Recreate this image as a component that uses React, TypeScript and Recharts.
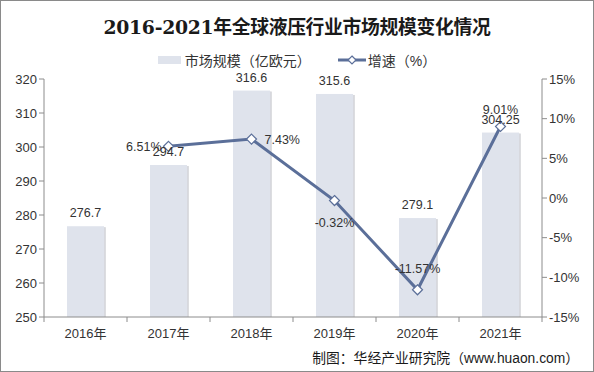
import React from "react";
import {
  ComposedChart,
  Bar,
  Line,
  XAxis,
  YAxis,
  LabelList,
} from "recharts";

const years = ["2016年", "2017年", "2018年", "2019年", "2020年", "2021年"];
const marketSize = [276.7, 294.7, 316.6, 315.6, 279.1, 304.25];
const growthRate = [null, 6.51, 7.43, -0.32, -11.57, 9.01];
const leftTicks = [250, 260, 270, 280, 290, 300, 310, 320];
const rightTicks = [-15, -10, -5, 0, 5, 10, 15];

const chartData = years.map((name, i) => ({
  name,
  size: marketSize[i],
  rate: growthRate[i],
}));

const FONT = "'Liberation Sans', Arial, 'Noto Sans CJK SC', sans-serif";
const LINE_COLOR = "#5b6f99";
const BAR_COLOR = "#dfe3ec";
const BAND = 83;

const BarShape = (props: any) => {
  const { x, y, width, height } = props;
  if (height <= 0) return null;
  return (
    <g>
      <rect x={x + 2} y={y + 1} width={width} height={height - 1} fill="#c4c7cc" opacity={0.6} />
      <rect x={x + 1} y={y + 1} width={width} height={height - 1} fill="#d3d6dc" opacity={0.6} />
      <rect x={x} y={y} width={width} height={height} fill={BAR_COLOR} />
    </g>
  );
};

const Diamond = (props: any) => {
  const { cx, cy, value } = props;
  if (value == null || cx == null) return null;
  const r = 5;
  return (
    <path
      d={`M${cx},${cy - r}L${cx + r},${cy}L${cx},${cy + r}L${cx - r},${cy}Z`}
      fill="#fff"
      stroke={LINE_COLOR}
      strokeWidth={1.2}
    />
  );
};

const XTick = (props: any) => {
  const { x, y, payload, index } = props;
  const last = index === years.length - 1;
  return (
    <g>
      <line x1={x - BAND / 2} y1={y - 8} x2={x - BAND / 2} y2={y - 3} stroke="#8c8c8c" />
      {last && <line x1={x + BAND / 2} y1={y - 8} x2={x + BAND / 2} y2={y - 3} stroke="#8c8c8c" />}
      <text x={x} y={y + 13} textAnchor="middle" fontSize={13} fill="#333" fontFamily={FONT}>
        {payload.value}
      </text>
    </g>
  );
};

// where each growth label sits relative to its point
const rateLabelPos: Record<number, { dx: number; dy: number; anchor: string }> = {
  1: { dx: -7, dy: 5, anchor: "end" },
  2: { dx: 13, dy: 5, anchor: "start" },
  3: { dx: 0, dy: 26, anchor: "middle" },
  4: { dx: 0, dy: -17, anchor: "middle" },
  5: { dx: 0, dy: -13, anchor: "middle" },
};

const RateLabel = (props: any) => {
  const { x, y, value, index } = props;
  if (value == null) return null;
  const p = rateLabelPos[index];
  if (!p) return null;
  return (
    <text x={x + p.dx} y={y + p.dy} textAnchor={p.anchor} fontSize={12.5} fill="#333" fontFamily={FONT}>
      {`${value}%`}
    </text>
  );
};

const SizeLabel = (props: any) => {
  const { x, y, width, value } = props;
  return (
    <text x={x + width / 2} y={y - 9} textAnchor="middle" fontSize={12.5} fill="#333" fontFamily={FONT}>
      {value}
    </text>
  );
};

const App: React.FC = () => {
  return (
    <div
      style={{
        position: "absolute",
        left: 0,
        top: 0,
        width: 594,
        height: 372,
        boxSizing: "border-box",
        border: "1px solid #8a8a8a",
        background: "#fff",
        fontFamily: FONT,
      }}
    >
      <div
        style={{
          position: "absolute",
          top: 11,
          left: 0,
          width: 592,
          textAlign: "center",
          fontFamily: "'DejaVu Serif', 'Noto Sans CJK SC', serif",
          fontWeight: "bold",
          fontSize: 18.8,
          color: "#1a1a1a",
          letterSpacing: -0.3,
        }}
      >
        2016-2021年全球液压行业市场规模变化情况
      </div>
      <div
        style={{
          position: "absolute",
          top: 49,
          left: 0,
          width: 592,
          display: "flex",
          justifyContent: "center",
          alignItems: "center",
          fontSize: 14,
          color: "#333",
        }}
      >
        <span style={{ display: "inline-block", width: 23, height: 8, background: BAR_COLOR, marginRight: 4 }} />
        <span>市场规模（亿欧元）</span>
        <svg width={28} height={12} style={{ marginLeft: 27, marginRight: 2 }}>
          <line x1={0} y1={6} x2={28} y2={6} stroke={LINE_COLOR} strokeWidth={3} />
          <path d="M14,2L18,6L14,10L10,6Z" fill="#fff" stroke={LINE_COLOR} strokeWidth={1.2} />
        </svg>
        <span>增速（%）</span>
      </div>
      <div style={{ position: "absolute", top: -1, left: -1 }}>
        <ComposedChart
          width={594}
          height={372}
          data={chartData}
          margin={{ top: 79, right: 0, left: 0, bottom: 25 }}
          barCategoryGap={0}
        >
          <XAxis
            dataKey="name"
            axisLine={{ stroke: "#8c8c8c" }}
            tickLine={false}
            tick={<XTick />}
            height={30}
            interval={0}
          />
          <YAxis
            yAxisId="left"
            domain={[250, 320]}
            ticks={leftTicks}
            width={44}
            axisLine={{ stroke: "#8c8c8c" }}
            tickLine={{ stroke: "#8c8c8c" }}
            tickSize={5}
            tick={{ fontSize: 13, fill: "#333", fontFamily: FONT }}
            allowDataOverflow
          />
          <YAxis
            yAxisId="right"
            orientation="right"
            domain={[-15, 15]}
            ticks={rightTicks}
            width={52}
            axisLine={{ stroke: "#8c8c8c" }}
            tickLine={{ stroke: "#8c8c8c" }}
            tickSize={5}
            tickFormatter={(v: number) => `${v}%`}
            tick={{ fontSize: 13, fill: "#333", fontFamily: FONT }}
          />
          <Bar
            yAxisId="left"
            dataKey="size"
            barSize={37}
            shape={<BarShape />}
            isAnimationActive={false}
          >
            <LabelList dataKey="size" content={<SizeLabel />} />
          </Bar>
          <Line
            yAxisId="right"
            dataKey="rate"
            stroke={LINE_COLOR}
            strokeWidth={3}
            dot={<Diamond />}
            activeDot={false}
            connectNulls={false}
            isAnimationActive={false}
          >
            <LabelList dataKey="rate" content={<RateLabel />} />
          </Line>
        </ComposedChart>
      </div>
      <div
        style={{
          position: "absolute",
          top: 346,
          right: 14,
          fontSize: 13.8,
          color: "#1a1a1a",
          whiteSpace: "nowrap",
        }}
      >
        制图：华经产业研究院（www.huaon.com）
      </div>
    </div>
  );
};

export default App;
